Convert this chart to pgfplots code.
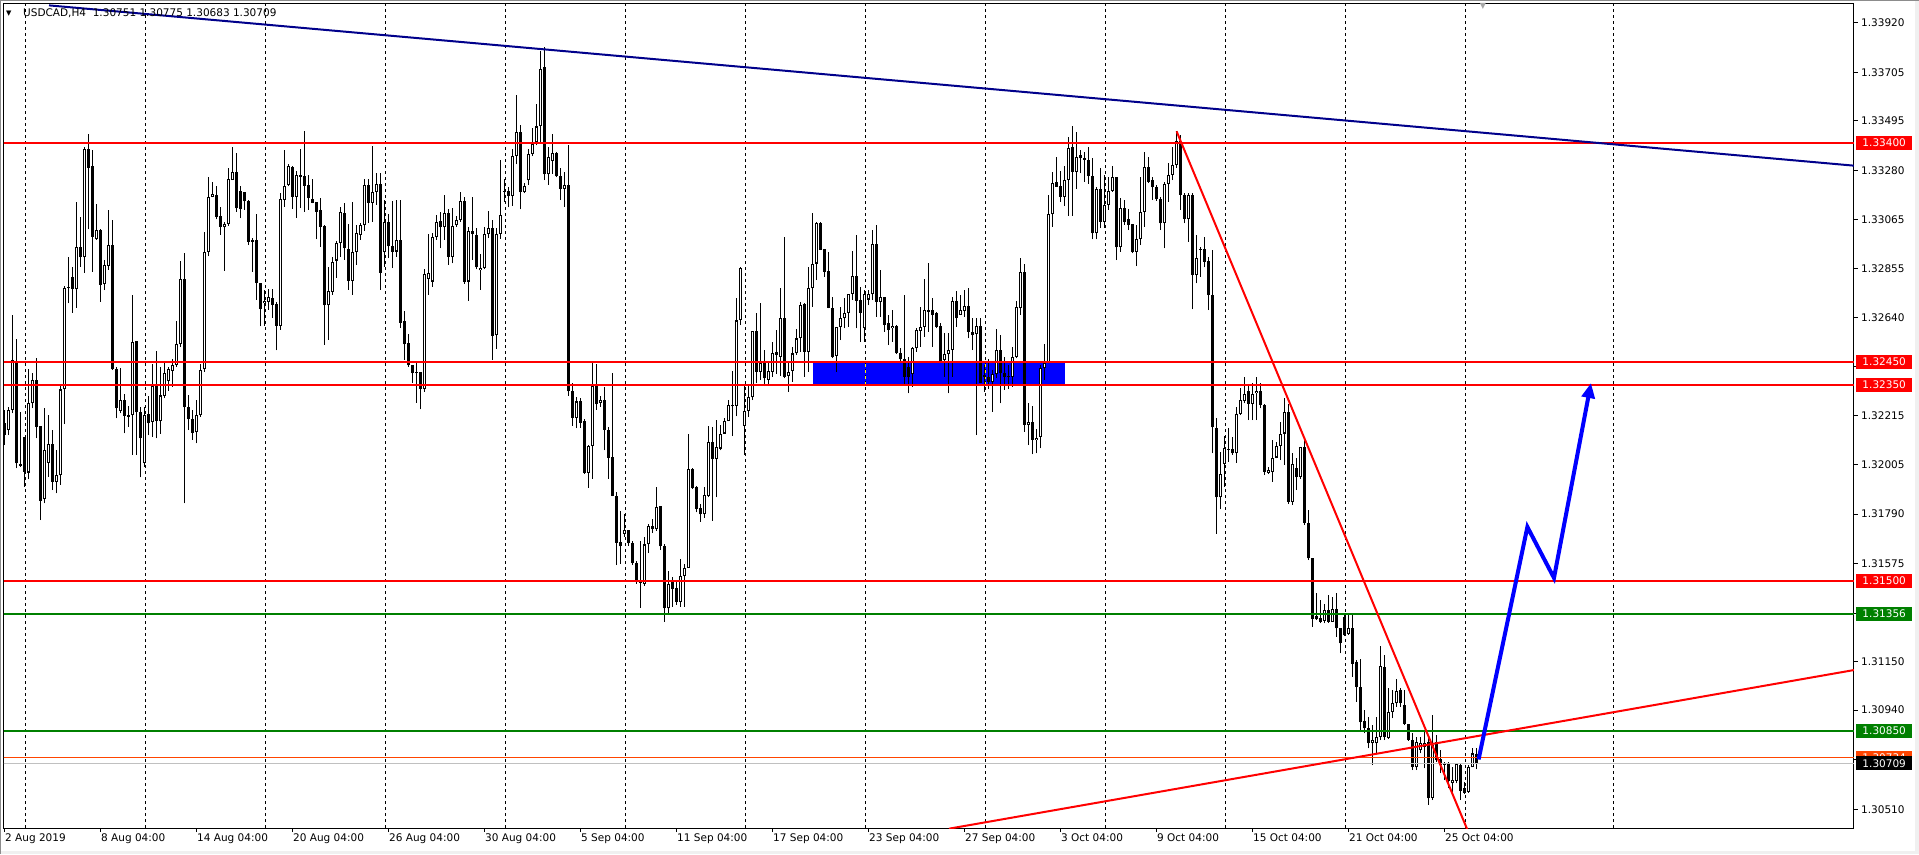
\documentclass[border=0pt]{standalone}
\usepackage{fontspec}
\setmainfont{DejaVu Sans}
\usepackage{pgfplots}
\pgfplotsset{compat=1.18}
\usepackage{pgfplotstable}
\usetikzlibrary{arrows.meta}
\definecolor{mtred}{RGB}{255,0,0}
\definecolor{mtgreen}{RGB}{0,128,0}
\definecolor{mtnavy}{RGB}{0,0,139}
\definecolor{mtblue}{RGB}{0,0,255}
\definecolor{mtorange}{RGB}{255,69,0}
\definecolor{mtsilver}{RGB}{192,192,192}

\pgfplotstableread{
x o h l c
0 1.32183 1.32241 1.32089 1.32132
1 1.32154 1.32255 1.32132 1.32241
2 1.32241 1.32653 1.32226 1.32458
3 1.32450 1.32547 1.31988 1.32010
4 1.32005 1.32234 1.31995 1.31999
5 1.32122 1.32125 1.31908 1.31973
6 1.31970 1.32417 1.31940 1.32273
7 1.32270 1.32400 1.32248 1.32371
8 1.32371 1.32465 1.32118 1.32169
9 1.32172 1.32172 1.31764 1.31848
10 1.31854 1.32248 1.31836 1.32067
11 1.32013 1.32219 1.31952 1.32093
12 1.32093 1.32154 1.31894 1.31930
13 1.31930 1.32067 1.31880 1.31958
14 1.31958 1.32349 1.31916 1.32330
15 1.32330 1.32780 1.32180 1.32768
16 1.32770 1.32906 1.32703 1.32775
17 1.32816 1.32862 1.32663 1.32765
18 1.32764 1.33143 1.32684 1.32946
19 1.32946 1.33076 1.32862 1.32903
20 1.32903 1.33380 1.32836 1.33371
21 1.33371 1.33437 1.33024 1.33291
22 1.33299 1.33368 1.32840 1.32992
23 1.32982 1.33132 1.32978 1.33021
24 1.33021 1.33025 1.32710 1.32784
25 1.32786 1.32891 1.32761 1.32871
26 1.32867 1.33108 1.32848 1.32955
27 1.32955 1.33065 1.32414 1.32417
28 1.32417 1.32426 1.32205 1.32248
29 1.32238 1.32421 1.32226 1.32283
30 1.32284 1.32309 1.32140 1.32215
31 1.32219 1.32260 1.32169 1.32212
32 1.32218 1.32739 1.32046 1.32534
33 1.32541 1.32541 1.32046 1.32231
34 1.32231 1.32255 1.31949 1.32118
35 1.32010 1.32255 1.31995 1.32221
36 1.32223 1.32302 1.32132 1.32183
37 1.32189 1.32439 1.32125 1.32345
38 1.32345 1.32498 1.32118 1.32195
39 1.32192 1.32429 1.32137 1.32304
40 1.32303 1.32450 1.32291 1.32400
41 1.32368 1.32429 1.32325 1.32417
42 1.32411 1.32460 1.32342 1.32436
43 1.32436 1.32628 1.32429 1.32526
44 1.32526 1.32888 1.32515 1.32807
45 1.32807 1.32920 1.31836 1.32252
46 1.32255 1.32306 1.32154 1.32200
47 1.32200 1.32241 1.32111 1.32143
48 1.32144 1.32284 1.32096 1.32218
49 1.32218 1.32440 1.32212 1.32414
50 1.32417 1.33014 1.32407 1.32927
51 1.32927 1.33249 1.32907 1.33166
52 1.33166 1.33231 1.33163 1.33179
53 1.33173 1.33212 1.33067 1.33079
54 1.33082 1.33122 1.33000 1.33036
55 1.33033 1.33057 1.32845 1.33046
56 1.33047 1.33288 1.33039 1.33241
57 1.33238 1.33380 1.33238 1.33271
58 1.33271 1.33354 1.33101 1.33115
59 1.33191 1.33212 1.33072 1.33111
60 1.33184 1.33187 1.33108 1.33145
61 1.33148 1.33151 1.32956 1.32971
62 1.32978 1.32986 1.32841 1.32971
63 1.32978 1.33091 1.32718 1.32791
64 1.32791 1.32791 1.32603 1.32678
65 1.32704 1.32762 1.32606 1.32714
66 1.32711 1.32766 1.32675 1.32730
67 1.32726 1.32765 1.32639 1.32697
68 1.32700 1.32711 1.32499 1.32607
69 1.32607 1.33181 1.32588 1.33155
70 1.33152 1.33369 1.33123 1.33213
71 1.33217 1.33306 1.33210 1.33299
72 1.33293 1.33299 1.33113 1.33166
73 1.33166 1.33275 1.33075 1.33259
74 1.33260 1.33373 1.33116 1.33253
75 1.33256 1.33451 1.33101 1.33213
76 1.33217 1.33260 1.33108 1.33159
77 1.33156 1.33243 1.33137 1.33140
78 1.33142 1.33143 1.32981 1.33101
79 1.33106 1.33161 1.32949 1.33036
80 1.33039 1.33042 1.32523 1.32694
81 1.32694 1.32863 1.32545 1.32757
82 1.32754 1.32906 1.32740 1.32883
83 1.32889 1.32974 1.32815 1.32967
84 1.32964 1.33123 1.32906 1.33100
85 1.33096 1.33140 1.32892 1.32942
86 1.32938 1.33048 1.32762 1.32802
87 1.32802 1.33142 1.32740 1.32925
88 1.32925 1.33043 1.32870 1.33009
89 1.32999 1.33051 1.32978 1.33042
90 1.33042 1.33243 1.33019 1.33215
91 1.33215 1.33243 1.33051 1.33140
92 1.33140 1.33386 1.33058 1.33188
93 1.33188 1.33270 1.33130 1.33221
94 1.33221 1.33267 1.32762 1.32837
95 1.32924 1.33152 1.32863 1.33055
96 1.33055 1.33091 1.32899 1.32950
97 1.32954 1.33147 1.32856 1.32928
98 1.32928 1.33152 1.32906 1.32978
99 1.32978 1.33152 1.32596 1.32620
100 1.32627 1.32672 1.32458 1.32526
101 1.32530 1.32571 1.32429 1.32434
102 1.32434 1.32434 1.32357 1.32400
103 1.32405 1.32451 1.32273 1.32400
104 1.32405 1.32405 1.32244 1.32334
105 1.32334 1.32851 1.32321 1.32830
106 1.32809 1.33004 1.32740 1.32834
107 1.32798 1.33007 1.32776 1.32990
108 1.32990 1.33085 1.32978 1.33056
109 1.33061 1.33101 1.32942 1.33033
110 1.33033 1.33172 1.32978 1.33094
111 1.33094 1.33111 1.32870 1.32906
112 1.32906 1.33116 1.32877 1.33039
113 1.33041 1.33080 1.33036 1.33065
114 1.33065 1.33188 1.33058 1.33148
115 1.33148 1.33163 1.32788 1.32798
116 1.32798 1.33036 1.32715 1.33017
117 1.33017 1.33163 1.32892 1.33003
118 1.33000 1.33029 1.32851 1.32859
119 1.32846 1.32916 1.32762 1.32856
120 1.32856 1.33033 1.32851 1.33004
121 1.33003 1.33104 1.32986 1.33028
122 1.33028 1.33065 1.32458 1.32562
123 1.32564 1.33029 1.32507 1.33005
124 1.33005 1.33323 1.32983 1.33086
125 1.33187 1.33241 1.33143 1.33189
126 1.33189 1.33209 1.33119 1.33168
127 1.33168 1.33372 1.33127 1.33344
128 1.33344 1.33608 1.33306 1.33445
129 1.33445 1.33478 1.33111 1.33184
130 1.33184 1.33223 1.33180 1.33212
131 1.33236 1.33372 1.33217 1.33350
132 1.33350 1.33465 1.33342 1.33396
133 1.33401 1.33568 1.33388 1.33470
134 1.33470 1.33796 1.33404 1.33718
135 1.33728 1.33816 1.33238 1.33262
136 1.33262 1.33383 1.33217 1.33336
137 1.33320 1.33437 1.33266 1.33355
138 1.33355 1.33359 1.33249 1.33254
139 1.33254 1.33290 1.33151 1.33200
140 1.33200 1.33274 1.33122 1.33217
141 1.33217 1.33388 1.32303 1.32322
142 1.32322 1.32360 1.32172 1.32208
143 1.32208 1.32298 1.32161 1.32278
144 1.32278 1.32295 1.32164 1.32185
145 1.32192 1.32200 1.31963 1.31968
146 1.31968 1.32089 1.31903 1.32086
147 1.32086 1.32450 1.31944 1.32344
148 1.32348 1.32442 1.32241 1.32265
149 1.32273 1.32303 1.32254 1.32286
150 1.32286 1.32339 1.32066 1.32156
151 1.32156 1.32167 1.31944 1.32033
152 1.32037 1.32401 1.31867 1.31870
153 1.31870 1.31887 1.31568 1.31665
154 1.31670 1.31805 1.31573 1.31650
155 1.31704 1.31789 1.31692 1.31720
156 1.31720 1.31721 1.31653 1.31663
157 1.31666 1.31674 1.31568 1.31577
158 1.31577 1.31585 1.31487 1.31495
159 1.31492 1.31674 1.31384 1.31500
160 1.31487 1.31690 1.31480 1.31658
161 1.31658 1.31748 1.31621 1.31740
162 1.31740 1.31769 1.31707 1.31723
163 1.31723 1.31906 1.31717 1.31821
164 1.31826 1.31826 1.31634 1.31650
165 1.31650 1.31658 1.31324 1.31381
166 1.31381 1.31544 1.31361 1.31487
167 1.31495 1.31519 1.31389 1.31465
168 1.31469 1.31495 1.31397 1.31410
169 1.31410 1.31593 1.31389 1.31523
170 1.31523 1.31573 1.31389 1.31557
171 1.31557 1.32135 1.31557 1.31985
172 1.31985 1.31990 1.31898 1.31903
173 1.31906 1.31911 1.31797 1.31813
174 1.31816 1.31834 1.31756 1.31789
175 1.31789 1.31909 1.31773 1.31874
176 1.31870 1.32172 1.31862 1.32104
177 1.32104 1.32169 1.31761 1.32030
178 1.32030 1.32197 1.31862 1.32079
179 1.32074 1.32177 1.32066 1.32139
180 1.32139 1.32208 1.32139 1.32192
181 1.32193 1.32283 1.32193 1.32262
182 1.32257 1.32409 1.32128 1.32262
183 1.32259 1.32727 1.32213 1.32629
184 1.32631 1.32860 1.32609 1.32855
185 1.32173 1.32349 1.32046 1.32236
186 1.32236 1.32349 1.32212 1.32296
187 1.32296 1.32585 1.32284 1.32583
188 1.32583 1.32660 1.32356 1.32407
189 1.32407 1.32703 1.32371 1.32443
190 1.32443 1.32501 1.32345 1.32378
191 1.32371 1.32446 1.32349 1.32410
192 1.32407 1.32537 1.32385 1.32489
193 1.32491 1.32587 1.32399 1.32479
194 1.32472 1.32772 1.32388 1.32640
195 1.32640 1.32992 1.32378 1.32385
196 1.32389 1.32453 1.32320 1.32407
197 1.32411 1.32515 1.32364 1.32486
198 1.32486 1.32594 1.32480 1.32551
199 1.32551 1.32710 1.32494 1.32696
200 1.32699 1.32706 1.32385 1.32494
201 1.32494 1.32862 1.32407 1.32768
202 1.32768 1.33093 1.32689 1.32876
203 1.32876 1.33057 1.32804 1.33050
204 1.33050 1.33057 1.32934 1.32934
205 1.32937 1.32940 1.32819 1.32840
206 1.32843 1.32927 1.32681 1.32684
207 1.32684 1.32732 1.32465 1.32472
208 1.32476 1.32602 1.32407 1.32602
209 1.32602 1.32689 1.32544 1.32638
210 1.32638 1.32725 1.32595 1.32663
211 1.32663 1.32744 1.32602 1.32744
212 1.32744 1.32931 1.32718 1.32822
213 1.32822 1.32999 1.32595 1.32715
214 1.32718 1.32775 1.32537 1.32663
215 1.32595 1.32761 1.32537 1.32744
216 1.32720 1.32761 1.32696 1.32742
217 1.32742 1.33021 1.32717 1.32960
218 1.32960 1.33043 1.32645 1.32710
219 1.32710 1.32847 1.32645 1.32732
220 1.32732 1.32732 1.32580 1.32609
221 1.32619 1.32652 1.32522 1.32587
222 1.32595 1.32674 1.32537 1.32606
223 1.32606 1.32609 1.32483 1.32486
224 1.32486 1.32508 1.32443 1.32460
225 1.32460 1.32739 1.32349 1.32385
226 1.32428 1.32472 1.32313 1.32385
227 1.32395 1.32515 1.32342 1.32508
228 1.32508 1.32595 1.32494 1.32587
229 1.32583 1.32686 1.32515 1.32602
230 1.32602 1.32811 1.32559 1.32674
231 1.32674 1.32879 1.32580 1.32667
232 1.32674 1.32725 1.32515 1.32652
233 1.32660 1.32667 1.32595 1.32602
234 1.32605 1.32616 1.32450 1.32453
235 1.32457 1.32573 1.32385 1.32483
236 1.32483 1.32573 1.32313 1.32501
237 1.32501 1.32732 1.32385 1.32713
238 1.32713 1.32758 1.32602 1.32638
239 1.32652 1.32739 1.32652 1.32674
240 1.32671 1.32761 1.32645 1.32691
241 1.32691 1.32772 1.32551 1.32580
242 1.32580 1.32638 1.32501 1.32566
243 1.32569 1.32638 1.32132 1.32605
244 1.32605 1.32638 1.32356 1.32356
245 1.32393 1.32436 1.32321 1.32386
246 1.32386 1.32461 1.32331 1.32364
247 1.32364 1.32414 1.32234 1.32396
248 1.32396 1.32591 1.32378 1.32501
249 1.32501 1.32566 1.32270 1.32400
250 1.32400 1.32472 1.32328 1.32386
251 1.32388 1.32436 1.32331 1.32386
252 1.32386 1.32513 1.32342 1.32472
253 1.32472 1.32713 1.32465 1.32686
254 1.32682 1.32898 1.32653 1.32838
255 1.32838 1.32874 1.32147 1.32176
256 1.32176 1.32273 1.32089 1.32190
257 1.32190 1.32258 1.32049 1.32111
258 1.32111 1.32157 1.32053 1.32121
259 1.32125 1.32436 1.32075 1.32424
260 1.32424 1.32526 1.32371 1.32446
261 1.32446 1.33173 1.32443 1.33089
262 1.33089 1.33274 1.33036 1.33224
263 1.33228 1.33339 1.33209 1.33209
264 1.33212 1.33277 1.33144 1.33166
265 1.33166 1.33299 1.33125 1.33238
266 1.33238 1.33426 1.33082 1.33375
267 1.33380 1.33472 1.33082 1.33274
268 1.33274 1.33448 1.33199 1.33339
269 1.33346 1.33368 1.33267 1.33332
270 1.33332 1.33361 1.33231 1.33325
271 1.33325 1.33383 1.33221 1.33255
272 1.33255 1.33332 1.32981 1.33007
273 1.33007 1.33209 1.32981 1.33198
274 1.33198 1.33292 1.33029 1.33057
275 1.33057 1.33260 1.33029 1.33130
276 1.33130 1.33252 1.33108 1.33192
277 1.33192 1.33299 1.33188 1.33250
278 1.33250 1.33252 1.32891 1.32946
279 1.32946 1.33159 1.32927 1.33115
280 1.33115 1.33152 1.33043 1.33057
281 1.33067 1.33111 1.33021 1.33043
282 1.33046 1.33046 1.32920 1.32927
283 1.32927 1.33043 1.32865 1.32981
284 1.32981 1.33252 1.32956 1.33101
285 1.33101 1.33361 1.33036 1.33296
286 1.33296 1.33339 1.33224 1.33231
287 1.33238 1.33252 1.33151 1.33206
288 1.33206 1.33216 1.33148 1.33154
289 1.33154 1.33163 1.33021 1.33050
290 1.33050 1.33231 1.32942 1.33221
291 1.33221 1.33310 1.33144 1.33260
292 1.33260 1.33380 1.33238 1.33303
293 1.33303 1.33450 1.33289 1.33409
294 1.33409 1.33433 1.33108 1.33173
295 1.33173 1.33180 1.33050 1.33068
296 1.33068 1.33180 1.32971 1.33173
297 1.33173 1.33180 1.32677 1.32826
298 1.32826 1.33000 1.32790 1.32898
299 1.32937 1.32949 1.32819 1.32939
300 1.32937 1.32990 1.32859 1.32884
301 1.32887 1.32906 1.32674 1.32739
302 1.32739 1.32935 1.32053 1.32166
303 1.32162 1.32205 1.31704 1.31862
304 1.31862 1.32060 1.31810 1.31964
305 1.32007 1.32128 1.31909 1.32075
306 1.32070 1.32161 1.32017 1.32074
307 1.32074 1.32125 1.32046 1.32053
308 1.32053 1.32255 1.32012 1.32223
309 1.32223 1.32335 1.32219 1.32284
310 1.32281 1.32385 1.32270 1.32310
311 1.32324 1.32349 1.32197 1.32269
312 1.32269 1.32356 1.32197 1.32310
313 1.32313 1.32385 1.32197 1.32324
314 1.32324 1.32356 1.32248 1.32262
315 1.32262 1.32269 1.31959 1.31973
316 1.31969 1.31992 1.31963 1.31981
317 1.31973 1.32110 1.31930 1.32035
318 1.32035 1.32103 1.32031 1.32085
319 1.32085 1.32190 1.32024 1.32139
320 1.32139 1.32291 1.32002 1.32233
321 1.32233 1.32269 1.31833 1.31843
322 1.31843 1.32053 1.31829 1.32005
323 1.31988 1.32035 1.31894 1.31949
324 1.31952 1.32082 1.31944 1.32079
325 1.32079 1.32118 1.31742 1.31752
326 1.31752 1.31807 1.31590 1.31598
327 1.31598 1.31598 1.31301 1.31337
328 1.31348 1.31446 1.31330 1.31333
329 1.31340 1.31417 1.31316 1.31323
330 1.31327 1.31402 1.31316 1.31374
331 1.31374 1.31439 1.31319 1.31323
332 1.31323 1.31431 1.31323 1.31378
333 1.31378 1.31446 1.31258 1.31294
334 1.31294 1.31294 1.31186 1.31229
335 1.31345 1.31352 1.31261 1.31265
336 1.31269 1.31352 1.31265 1.31298
337 1.31298 1.31352 1.31085 1.31142
338 1.31150 1.31157 1.30976 1.31041
339 1.31041 1.31160 1.30846 1.30887
340 1.30892 1.30940 1.30839 1.30861
341 1.30861 1.30911 1.30774 1.30796
342 1.30796 1.30875 1.30702 1.30810
343 1.30796 1.30911 1.30752 1.30824
344 1.30824 1.31218 1.30810 1.31131
345 1.31128 1.31178 1.30810 1.30824
346 1.30820 1.31034 1.30816 1.30933
347 1.30933 1.31027 1.30904 1.30969
348 1.30969 1.31077 1.30955 1.31024
349 1.31027 1.31034 1.30955 1.30969
350 1.30962 1.31027 1.30875 1.30880
351 1.30880 1.30880 1.30808 1.30810
352 1.30810 1.30839 1.30680 1.30692
353 1.30692 1.30824 1.30680 1.30803
354 1.30767 1.30824 1.30752 1.30796
355 1.30781 1.30846 1.30687 1.30796
356 1.30803 1.30824 1.30529 1.30557
357 1.30561 1.30918 1.30550 1.30788
358 1.30803 1.30831 1.30716 1.30723
359 1.30726 1.30767 1.30667 1.30702
360 1.30705 1.30716 1.30636 1.30704
361 1.30705 1.30716 1.30601 1.30634
362 1.30622 1.30694 1.30579 1.30637
363 1.30634 1.30709 1.30622 1.30706
364 1.30702 1.30709 1.30550 1.30590
365 1.30601 1.30630 1.30576 1.30582
366 1.30586 1.30702 1.30582 1.30692
367 1.30692 1.30774 1.30692 1.30752
368 1.30751 1.30775 1.30683 1.30709
}\candles

\begin{document}
\begin{tikzpicture}
\useasboundingbox (0pt,0pt) rectangle (1919pt,854pt);
\fill[white] (0pt,0pt) rectangle (1919pt,854pt);
% window frame
\fill[black!6] (0pt,0pt) rectangle (1919pt,3.5pt);
\fill[black!6] (1915pt,0pt) rectangle (1919pt,854pt);
\fill[black!45] (0pt,852.7pt) rectangle (1919pt,854pt);
\fill[black!45] (0pt,0pt) rectangle (1.3pt,854pt);
\begin{axis}[
  at={(4pt,26pt)}, anchor=south west,
  width=1850pt, height=824pt, scale only axis,
  xmin=-0.25, xmax=462.25, ymin=1.30429, ymax=1.34001,
  clip mode=individual,
  axis line style={black, line width=1pt},
  tick style={black, line width=1pt},
  tick align=outside, major tick length=4pt,
  ytick pos=right, yticklabel pos=right,
  xtick pos=bottom,
  ytick={1.30510,1.30725,1.30940,1.31150,1.31360,1.31575,1.31790,1.32005,1.32215,1.32430,1.32640,1.32855,1.33065,1.33280,1.33495,1.33705,1.33920},
  yticklabels={1.30510,,1.30940,1.31150,,1.31575,1.31790,1.32005,1.32215,,1.32640,1.32855,1.33065,1.33280,1.33495,1.33705,1.33920},
  xtick={0,24,48,72,96,120,144,168,192,216,240,264,288,312,336,360},
  xticklabels={2 Aug 2019,8 Aug 04:00,14 Aug 04:00,20 Aug 04:00,26 Aug 04:00,30 Aug 04:00,5 Sep 04:00,11 Sep 04:00,17 Sep 04:00,23 Sep 04:00,27 Sep 04:00,3 Oct 04:00,9 Oct 04:00,15 Oct 04:00,21 Oct 04:00,25 Oct 04:00},
  x tick label style={anchor=north west, inner xsep=0pt, inner ysep=2pt},
  y tick label style={anchor=west, inner xsep=3pt},
  tick label style={font=\fontsize{10.5}{12}\selectfont, text=black},
  scaled y ticks=false,
]
% blue zone
\addplot[fill=mtblue, draw=none, forget plot] coordinates {(201.9,1.32350) (265,1.32350) (265,1.32450) (201.9,1.32450)} -- cycle;
% vertical grid
\pgfplotsinvokeforeach{5,35,65,95,125,155,185,215,245,275,305,335,365,402}{
  \addplot[black, line width=0.8pt, dash pattern=on 3pt off 3pt, forget plot] coordinates {(#1,1.30429) (#1,1.34001)};
}
\addplot[yellow, line width=0.8pt, dash pattern=on 3pt off 3pt, forget plot] coordinates {(215,1.32350) (215,1.32450)};
\addplot[yellow, line width=0.8pt, dash pattern=on 3pt off 3pt, forget plot] coordinates {(245,1.32350) (245,1.32450)};
% candles: wicks
\addplot[draw=none, mark=none, forget plot,
  error bars/.cd, y dir=plus, y explicit, error mark=none,
  error bar style={draw=black, solid, line width=1pt}]
  table[x=x, y=l, y error expr=\thisrow{h}-\thisrow{l}] {\candles};
% bodies
\addplot[draw=none, mark=none, forget plot,
  error bars/.cd, y dir=plus, y explicit, error mark=none,
  error bar style={draw=black, solid, line width=3pt}]
  table[x=x, y expr={min(\thisrow{o},\thisrow{c})}, y error expr={max(abs(\thisrow{c}-\thisrow{o}),0.00004)}] {\candles};
% bull interiors
\addplot[draw=none, mark=none, forget plot,
  error bars/.cd, y dir=plus, y explicit, error mark=none,
  error bar style={draw=white, solid, line width=1pt}]
  table[x=x, y expr={\thisrow{o}+0.000045}, y error expr={max(\thisrow{c}-\thisrow{o}-0.00009,0)}] {\candles};
% horizontal levels
\addplot[mtsilver, line width=1pt, forget plot] coordinates {(-1,1.30709) (470,1.30709)};
\addplot[mtorange, line width=1pt, forget plot] coordinates {(-1,1.30734) (470,1.30734)};
\addplot[mtred, line width=2pt, forget plot] coordinates {(-1,1.33400) (470,1.33400)};
\addplot[mtred, line width=2pt, forget plot] coordinates {(-1,1.32450) (470,1.32450)};
\addplot[mtred, line width=2pt, forget plot] coordinates {(-1,1.32350) (470,1.32350)};
\addplot[mtred, line width=2pt, forget plot] coordinates {(-1,1.31500) (470,1.31500)};
\addplot[mtgreen, line width=2pt, forget plot] coordinates {(-1,1.31356) (470,1.31356)};
\addplot[mtgreen, line width=2pt, forget plot] coordinates {(-1,1.30850) (470,1.30850)};
% trend lines
\addplot[mtnavy, line width=2pt, forget plot] coordinates {(11,1.33995) (463,1.33299)};
\addplot[mtred, line width=2pt, forget plot] coordinates {(292.9,1.33449) (366.5,1.30384)};
\addplot[mtred, line width=2pt, forget plot] coordinates {(236,1.30426) (463,1.31116)};
% projection arrow
\addplot[mtblue, line width=4pt, line join=miter, -{Triangle[length=15pt,width=13pt]}, forget plot]
  coordinates {(368.4,1.30726) (380.6,1.31734) (387.25,1.31513) (396.5,1.32358)};
% price labels
\tikzset{plabel/.style={anchor=west, text=white, minimum width=56pt, minimum height=14pt, inner sep=0pt, xshift=2pt, font=\fontsize{10.5}{12}\selectfont}}
\node[plabel, fill=mtred] at (axis cs:462.25,1.33400) {1.33400};
\node[plabel, fill=mtred] at (axis cs:462.25,1.32450) {1.32450};
\node[plabel, fill=mtred] at (axis cs:462.25,1.32350) {1.32350};
\node[plabel, fill=mtred] at (axis cs:462.25,1.31500) {1.31500};
\node[plabel, fill=mtgreen] at (axis cs:462.25,1.31356) {1.31356};
\node[plabel, fill=mtgreen] at (axis cs:462.25,1.30850) {1.30850};
\node[plabel, fill=mtorange] at (axis cs:462.25,1.30734) {1.30734};
\node[plabel, fill=black] at (axis cs:462.25,1.30709) {1.30709};
\end{axis}
\node[anchor=west, inner sep=0pt, font=\fontsize{7}{8}\selectfont] at (6pt,840.5pt) {▼};
\node[anchor=center, inner sep=0pt, text=black!35, font=\fontsize{8}{9}\selectfont] at (1483pt,847.5pt) {▼};
\node[anchor=west, inner sep=0pt, font=\fontsize{10.5}{12}\selectfont] at (23pt,840.5pt) {USDCAD,H4\ \ 1.30751 1.30775 1.30683 1.30709};
\end{tikzpicture}
\end{document}
